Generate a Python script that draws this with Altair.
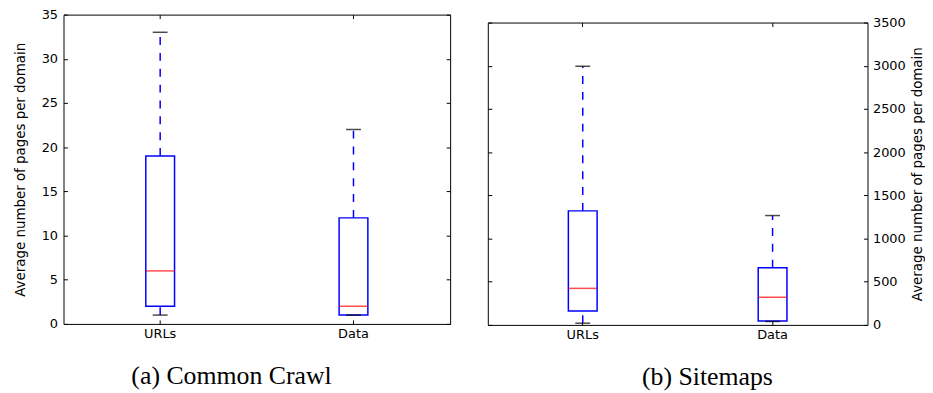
import altair as alt
import pandas as pd

categories = ["URLs", "Data"]

# (a) Common Crawl
cc_low = [1, 1]
cc_q1 = [2, 1]
cc_median = [6, 2]
cc_q3 = [19, 12]
cc_high = [33, 22]

# (b) Sitemaps
sm_low = [20, 40]
sm_q1 = [160, 45]
sm_median = [423, 320]
sm_q3 = [1320, 663]
sm_high = [2994, 1266]

cc_ticks = [0, 5, 10, 15, 20, 25, 30, 35]
sm_ticks = [0, 500, 1000, 1500, 2000, 2500, 3000, 3500]

BLUE = "#0000ff"
RED = "#ff0000"
FONT = "DejaVu Sans"
SERIF = "Liberation Serif"
YTITLE = "Average number of pages per domain"


def panel(low, q1, med, q3, high, ticks, width, height, side, caption, cap_x):
    df = pd.DataFrame({"cat": categories, "low": low, "q1": q1, "med": med, "q3": q3, "high": high})
    xscale = alt.Scale(type="band", paddingInner=0, paddingOuter=0)
    yscale = alt.Scale(domain=[ticks[0], ticks[-1]], nice=False, zero=True)
    other = "right" if side == "left" else "left"

    x_main = alt.X("cat:N", sort=categories, scale=xscale,
                   axis=alt.Axis(orient="bottom", offset=-4, tickSize=4, domain=False,
                                 labelAngle=0, labelPadding=4, labelFont=FONT, labelFontSize=13,
                                 labelColor="black", tickColor="black", grid=False,
                                 title=caption, titleFont=SERIF, titleFontSize=26,
                                 titleFontWeight="normal", titleColor="black",
                                 titleX=cap_x, titleY=64, titleBaseline="alphabetic",
                                 titleAlign="center"))
    x_top = alt.X("cat:N", sort=categories, scale=xscale,
                  axis=alt.Axis(orient="top", offset=-4, tickSize=4, domain=False,
                                labels=False, title=None, tickColor="black", grid=False))
    x_none = alt.X("cat:N", sort=categories, scale=xscale, axis=None)

    y_main_axis = alt.Axis(orient=side, offset=-4, tickSize=4, domain=False, values=ticks,
                           format="d",
                           labelPadding=6 if side == "left" else 5, labelFont=FONT,
                           labelFontSize=13, labelColor="black", tickColor="black", grid=False,
                           title=YTITLE, titleFont=FONT, titleFontSize=13.5,
                           titleFontWeight="normal", titleColor="black", titleAngle=270,
                           titleBaseline="bottom" if side == "left" else "top",
                           titlePadding=14 if side == "left" else 5)
    y_other_axis = alt.Axis(orient=other, offset=-4, tickSize=4, domain=False, values=ticks,
                            labels=False, title=None, tickColor="black", grid=False)

    base = alt.Chart(df)
    lower_w = base.mark_rule(color=BLUE, strokeWidth=1.5, strokeDash=[8, 8]).encode(
        x=x_main, y=alt.Y("low:Q", scale=yscale, axis=y_main_axis), y2="q1:Q")
    upper_w = base.mark_rule(color=BLUE, strokeWidth=1.5, strokeDash=[8, 8]).encode(
        x=x_none, y=alt.Y("q3:Q", scale=yscale, axis=None), y2="high:Q")
    box = base.mark_bar(size=29, fillOpacity=0, stroke=BLUE, strokeWidth=1.5).encode(
        x=x_top, y=alt.Y("q1:Q", scale=yscale, axis=y_other_axis), y2="q3:Q")
    cap_lo = base.mark_tick(size=15, thickness=1.5, color="black").encode(
        x=x_none, y=alt.Y("low:Q", scale=yscale, axis=None))
    cap_hi = base.mark_tick(size=15, thickness=1.5, color="black").encode(
        x=x_none, y=alt.Y("high:Q", scale=yscale, axis=None))
    median = base.mark_tick(size=29, thickness=1.5, color=RED).encode(
        x=x_none, y=alt.Y("med:Q", scale=yscale, axis=None))

    return alt.layer(lower_w, upper_w, box, cap_lo, cap_hi, median).properties(
        width=width, height=height)


left = panel(cc_low, cc_q1, cc_median, cc_q3, cc_high, cc_ticks, 390, 312, "left",
             "(a) Common Crawl", 169)
right = panel(sm_low, sm_q1, sm_median, sm_q3, sm_high, sm_ticks, 383, 305, "right",
              "(b) Sitemaps", 221)

# invisible 1px spacer so the right panel sits a few pixels lower
spacer = alt.Chart(pd.DataFrame({"v": [0]})).mark_rule(strokeWidth=0, opacity=0).encode(
    x=alt.value(0), x2=alt.value(0), y=alt.value(0)
).properties(width=383, height=1, view=alt.ViewBackground(stroke=None))

right_col = alt.vconcat(spacer, right, spacing=0)

chart = alt.hconcat(left, right_col, spacing=36).properties(
    padding={"left": 4, "top": -2, "right": 0, "bottom": 0}
).configure_view(stroke="black", strokeWidth=1)

chart.save("out.html", embed_options={"renderer": "svg", "actions": False})
